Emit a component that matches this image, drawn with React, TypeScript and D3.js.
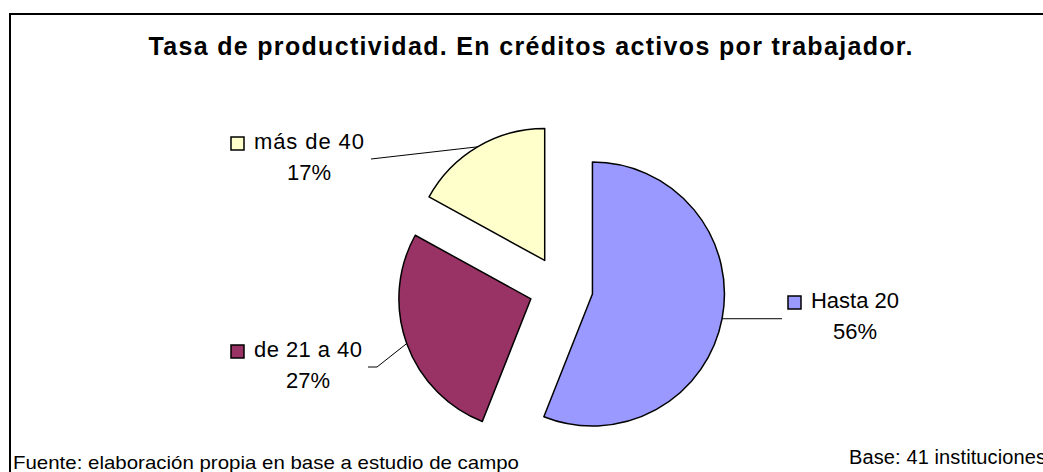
import React from "react";
import * as d3 from "d3";

const categories = ["Hasta 20", "de 21 a 40", "más de 40"];
const percents = [56, 27, 17];
const percentLabels = ["56%", "27%", "17%"];
const colors = ["#9999FF", "#993366", "#FFFFCC"];

const title = "Tasa de productividad. En créditos activos por trabajador.";
const footLeft = "Fuente: elaboración propia en base a estudio de campo";
const footRight = "Base: 41 instituciones";

// layout
const W = 1043;
const H = 472;
const CX = 561;
const CY = 288;
const R = 132;
const EXPLODE = 32;
const FONT = "'Liberation Sans', Arial, Helvetica, sans-serif";

// label layout: leader polyline after the arc point, text start, baseline, text width
const labelLayout = [
  { leader: [[782, null]], textX: 811, baseline: 308, textW: 88 },
  { leader: [[377, 367], [368, 367]], textX: 254, baseline: 357, textW: 108 },
  { leader: [[371, 159]], textX: 254, baseline: 149, textW: 110 },
];

export default function App() {
  const pie = d3
    .pie<number>()
    .sort(null)
    .value((d) => d)
    .startAngle(0)
    .endAngle(2 * Math.PI);
  const arcs = pie(percents);
  const arc = d3.arc<d3.PieArcDatum<number>>().innerRadius(0).outerRadius(R);

  return (
    <svg
      width={W}
      height={H}
      style={{ position: "absolute", left: 0, top: 0, display: "block", background: "#fff" }}
    >
      <rect x={0} y={0} width={W} height={H} fill="#fff" />
      <rect x={10} y={14} width={W + 20} height={H + 20} fill="#fff" stroke="#000" strokeWidth={2} />
      <text
        x={530.5}
        y={55}
        textAnchor="middle"
        fontFamily={FONT}
        fontWeight="bold"
        fontSize={25}
        textLength={764}
        lengthAdjust="spacing"
        fill="#000"
      >
        {title}
      </text>
      {arcs.map((a, i) => {
        const mid = (a.startAngle + a.endAngle) / 2;
        const dx = Math.sin(mid);
        const dy = -Math.cos(mid);
        const ox = CX + dx * EXPLODE;
        const oy = CY + dy * EXPLODE;
        const px = ox + dx * R;
        const py = oy + dy * R;
        const lay = labelLayout[i];
        const pts: [number, number][] = [[px, py]];
        lay.leader.forEach(([lx, ly]) => pts.push([lx as number, ly === null ? py : (ly as number)]));
        const line = d3.line()(pts) || "";
        const keyY = lay.baseline - 12;
        return (
          <g key={categories[i]}>
            <path
              d={arc(a) || ""}
              transform={`translate(${ox},${oy})`}
              fill={colors[i]}
              stroke="#000"
              strokeWidth={1.5}
              strokeLinejoin="round"
            />
            <path d={line} fill="none" stroke="#000" strokeWidth={1} />
            <rect
              x={lay.textX - 23}
              y={keyY}
              width={13}
              height={13}
              fill={colors[i]}
              stroke="#000"
              strokeWidth={1.5}
            />
            <text
              x={lay.textX}
              y={lay.baseline}
              fontFamily={FONT}
              fontSize={22}
              textLength={lay.textW}
              lengthAdjust="spacing"
              fill="#000"
            >
              {categories[i]}
            </text>
            <text
              x={lay.textX + lay.textW / 2}
              y={lay.baseline + 31}
              textAnchor="middle"
              fontFamily={FONT}
              fontSize={22}
              fill="#000"
            >
              {percentLabels[i]}
            </text>
          </g>
        );
      })}
      <text x={13} y={469} fontFamily={FONT} fontSize={19} textLength={506} lengthAdjust="spacingAndGlyphs" fill="#000">
        {footLeft}
      </text>
      <text x={849} y={464} fontFamily={FONT} fontSize={20} textLength={197} lengthAdjust="spacing" fill="#000">
        {footRight}
      </text>
    </svg>
  );
}
